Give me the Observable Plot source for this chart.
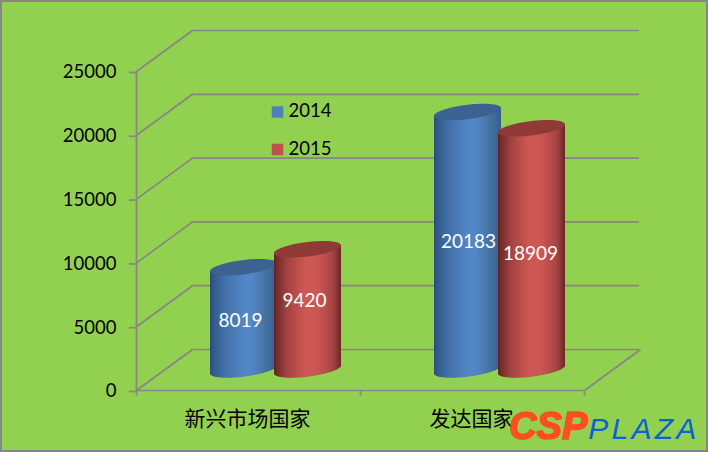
<!DOCTYPE html>
<html>
<head>
<meta charset="utf-8">
<script src="https://cdn.jsdelivr.net/npm/d3@7"></script>
<script src="https://cdn.jsdelivr.net/npm/@observablehq/plot@0.6"></script>
<style>
html,body{margin:0;padding:0;background:#92D050;overflow:hidden}
svg{display:block;outline:2px solid #868686;outline-offset:-2px}
text[aria-label="plaza"]{letter-spacing:3.25px}
</style>
</head>
<body>
<div id="chart"></div>
<script>
const categories = ["新兴市场国家", "发达国家"];
const seriesNames = ["2014", "2015"];
const values2014 = [8019, 20183];
const values2015 = [9420, 18909];
const yTicks = [0, 5000, 10000, 15000, 20000, 25000];

const rows2014 = categories.map((c, i) => ({category: c, value: values2014[i]}));
const rows2015 = categories.map((c, i) => ({category: c, value: values2015[i]}));

// Style constants
const GRID = "#868686", BG = "#92D050", LINE = 1.7;
const depthX = 55, depthY = 41, halfDepthY = depthY / 2;
const halfBand = 112;
const RX = 33.5, RY = 7.2, SHEAR = 4, K = 0.5523, LAP = 1.5;

const P = (u, v) => [RX * u, RY * v - SHEAR * u];
const bez = (ctx, a, b, c, d, e, f) => ctx.bezierCurveTo(...P(a, b), ...P(c, d), ...P(e, f));
const capSymbol = {draw(ctx) {
  ctx.moveTo(...P(-1, 0));
  bez(ctx, -1, K, -K, 1, 0, 1); bez(ctx, K, 1, 1, K, 1, 0);
  bez(ctx, 1, -K, K, -1, 0, -1); bez(ctx, -K, -1, -1, -K, -1, 0);
  ctx.closePath();
}};
const baseSymbol = {draw(ctx) {
  ctx.moveTo(-RX, -SHEAR - LAP);
  ctx.lineTo(...P(-1, 0));
  bez(ctx, -1, K, -K, 1, 0, 1); bez(ctx, K, 1, 1, K, 1, 0);
  ctx.lineTo(RX, -SHEAR - LAP);
  ctx.closePath();
}};
const collarSymbol = {draw(ctx) {
  ctx.moveTo(-RX, SHEAR);
  ctx.lineTo(-RX, SHEAR + LAP);
  ctx.lineTo(RX, SHEAR + LAP);
  ctx.lineTo(RX, -SHEAR);
  ctx.closePath();
}};
const diagSymbol = {draw(ctx) { ctx.moveTo(0, 0); ctx.lineTo(depthX + 1, -depthY); }};
const tickSymbol = {draw(ctx) { ctx.moveTo(0, 0); ctx.lineTo(0, 5); }};

function gradients() {
  const defs = d3.create("svg:defs");
  const add = (id, stops) => {
    const g = defs.append("linearGradient").attr("id", id).attr("x1", 0).attr("x2", 1).attr("y1", 0).attr("y2", 0);
    stops.forEach(([o, c]) => g.append("stop").attr("offset", o).attr("stop-color", c));
  };
  add("gBlue", [[0, "#2C4D76"], [0.05, "#33598A"], [0.2, "#416FA6"], [0.5, "#5386C6"], [0.62, "#5386C6"], [0.85, "#44719F"], [1, "#355E8E"]]);
  add("gRed", [[0, "#5F2422"], [0.05, "#752D2B"], [0.2, "#A44341"], [0.45, "#CC5753"], [0.65, "#CC5753"], [0.88, "#A54442"], [1, "#6A2826"]]);
  return defs.node();
}

function cylinder(rows, centerDx, insetLeft, insetRight, grad, capColor) {
  // Plot nudges dots by half a pixel but not bars, hence the -0.5 here
  const common = {x: "category", dx: centerDx - 0.5, dy: -halfDepthY - 0.5, r: 6};
  return [
    Plot.dot(rows, {...common, y: () => 0, symbol: baseSymbol, fill: `url(#${grad})`, stroke: "none"}),
    Plot.dot(rows, {...common, y: "value", symbol: collarSymbol, fill: `url(#${grad})`, stroke: "none"}),
    Plot.barY(rows, {x: "category", y: "value", dy: -halfDepthY, insetLeft, insetRight, insetTop: SHEAR, insetBottom: SHEAR, fill: `url(#${grad})`}),
    Plot.dot(rows, {...common, y: "value", symbol: capSymbol, fill: capColor, stroke: "none"})
  ];
}

const labelFont = {fontFamily: "Lato", fontSize: 19, fill: "white"};
const valueLabel = (row, dx, dy) => Plot.text([row], {x: "category", y: d => d.value / 2, text: d => String(d.value), dx, dy: dy - halfDepthY, ...labelFont});

const chart = Plot.plot({
  width: 708,
  height: 452,
  marginLeft: 136,
  marginRight: 124,
  marginTop: 71,
  marginBottom: 62,
  style: {background: BG, fontFamily: "Lato", color: "#000"},
  x: {domain: categories, padding: 0, label: null},
  y: {domain: [0, 25000], label: null},
  marks: [
    gradients,
    // back wall and floor
    Plot.ruleY(yTicks, {dx: depthX, dy: -depthY, stroke: GRID, strokeWidth: LINE}),
    Plot.dot(yTicks, {y: d => d, frameAnchor: "left", symbol: diagSymbol, stroke: GRID, strokeWidth: LINE, fill: "none", r: 6}),
    Plot.dot(yTicks.slice(0, 1), {y: d => d, frameAnchor: "right", symbol: diagSymbol, stroke: GRID, strokeWidth: LINE, fill: "none", r: 6}),
    Plot.ruleY(yTicks.slice(0, 1), {stroke: GRID, strokeWidth: LINE}),
    // axes
    Plot.ruleX(categories.slice(0, 1), {dx: -halfBand, stroke: GRID, strokeWidth: LINE}),
    Plot.dot(categories, {x: d => d, y: () => 0, dx: -halfBand, symbol: tickSymbol, stroke: GRID, strokeWidth: LINE, fill: "none", r: 6}),
    Plot.dot(categories.slice(-1), {x: d => d, y: () => 0, dx: halfBand, symbol: tickSymbol, stroke: GRID, strokeWidth: LINE, fill: "none", r: 6}),
    Plot.axisY(yTicks, {tickSize: 7, tickPadding: 13, stroke: GRID, strokeWidth: LINE, fill: "#000", tickFormat: d => String(d), fontSize: 18.5, fontFamily: "Lato", label: null, textStroke: "none", dy: 1}),
    Plot.axisX({tickSize: 0, tickPadding: 21, dx: -1, fill: "#000", fontSize: 21, fontFamily: "Noto Sans CJK SC", label: null}),
    // cylinders
    ...cylinder(rows2014, -4.5, 74, 83, "gBlue", "#3B6290"),
    ...cylinder(rows2015, 59.5, 138, 19, "gRed", "#8F3A37"),
    // value labels
    valueLabel(rows2014[0], -8, 2),
    valueLabel(rows2015[0], 56, -9),
    valueLabel(rows2014[1], -4, 1),
    valueLabel(rows2015[1], 58, 5),
    // legend
    Plot.dot(seriesNames.slice(0, 1), {frameAnchor: "top-left", dx: 141, dy: 40.5, symbol: "square", r: 6.5, fill: "#4F81BD", stroke: "none"}),
    Plot.dot(seriesNames.slice(1), {frameAnchor: "top-left", dx: 141, dy: 78, symbol: "square", r: 6.5, fill: "#C0504D", stroke: "none"}),
    Plot.text(seriesNames.slice(0, 1), {frameAnchor: "top-left", dx: 152, dy: 40, text: d => d, textAnchor: "start", lineAnchor: "middle", fontSize: 18.5, fontFamily: "Lato", fill: "#000"}),
    Plot.text(seriesNames.slice(1), {frameAnchor: "top-left", dx: 152, dy: 78, text: d => d, textAnchor: "start", lineAnchor: "middle", fontSize: 18.5, fontFamily: "Lato", fill: "#000"}),
    // logo
    Plot.text(["CSP"], {frameAnchor: "bottom-right", dx: 3, dy: 48, text: d => d, textAnchor: "end", lineAnchor: "bottom", fontSize: 38, fontWeight: "bold", fontStyle: "italic", fontFamily: "Liberation Sans", fill: "#FF4F20", stroke: "#FF4F20", strokeWidth: 1.6}),
    Plot.text(["PLAZA"], {frameAnchor: "bottom-right", dx: 115, dy: 48, text: d => d, textAnchor: "end", lineAnchor: "bottom", fontSize: 30, fontStyle: "italic", fontFamily: "Liberation Sans", fill: "#0B62D0", ariaLabel: () => "plaza"})
  ]
});
document.getElementById("chart").appendChild(chart);
</script>
</body>
</html>
